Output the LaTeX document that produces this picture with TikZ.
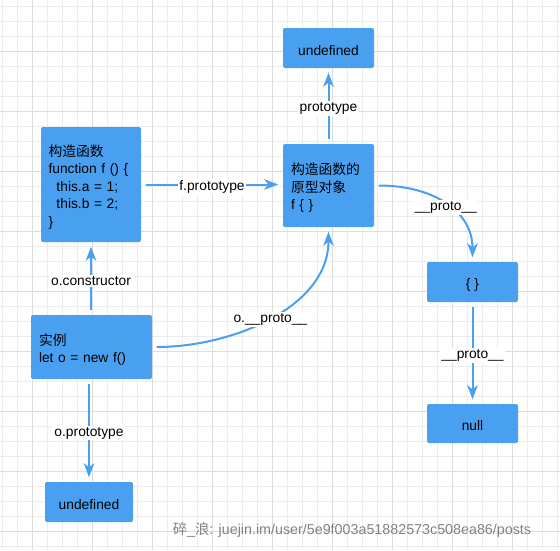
\documentclass[tikz,border=0pt]{standalone}
\usepackage{fontspec}
\setmainfont{Liberation Sans}
\newfontfamily\cjk{Noto Sans CJK SC}
\usetikzlibrary{arrows.meta}
\definecolor{boxblue}{RGB}{74,160,240}
\definecolor{gridminor}{RGB}{236,236,236}
\definecolor{gridmajor}{RGB}{221,221,221}
\definecolor{wmgray}{RGB}{130,130,130}
\tikzset{
  box/.style={fill=boxblue, draw=none, rounded corners=2pt, inner sep=0pt},
  boxtext/.style={inner sep=0pt, text=black, yshift=-2.5pt,
    font=\fontsize{13.8}{17.5}\selectfont},
  lefttext/.style={boxtext, align=left},
  edge/.style={draw=boxblue, line width=2pt,
    -{Stealth[length=14pt,width=10.5pt,inset=4pt]}, shorten <=4.5pt, shorten >=4.5pt},
  lbl/.style={fill=white, inner sep=1.5pt, text=black, yshift=-2.5pt,
    font=\fontsize{13.8}{16}\selectfont}
}
\begin{document}
\begin{tikzpicture}[x=1pt,y=-1pt]
\fill[white] (0,0) rectangle (560,550);
\useasboundingbox (0,0) rectangle (560,550);
% grid
\foreach \x in {2,17,...,557} \draw[gridminor, line width=0.8pt] (\x,0) -- (\x,550);
\foreach \y in {6,21,...,546} \draw[gridminor, line width=0.8pt] (0,\y) -- (560,\y);
\foreach \x in {32,92,...,512} \draw[gridmajor, line width=0.8pt] (\x,0) -- (\x,550);
\foreach \y in {51,111,...,531} \draw[gridmajor, line width=0.8pt] (0,\y) -- (560,\y);
% boxes
\node[box, minimum width=100pt, minimum height=115pt] (ctor) at (91,184.5) {};
\node[box, minimum width=91pt, minimum height=83pt] (proto) at (328.5,185.5) {};
\node[box, minimum width=91pt, minimum height=40pt] (topund) at (328.5,48) {};
\node[box, minimum width=121pt, minimum height=64pt] (inst) at (91.5,347) {};
\node[box, minimum width=88pt, minimum height=40pt] (botund) at (89,502) {};
\node[box, minimum width=91pt, minimum height=40pt] (emp) at (472.5,282) {};
\node[box, minimum width=91pt, minimum height=39pt] (nul) at (472.5,423.5) {};
% box texts
\node[lefttext, text width=85pt] (ctortxt) at (ctor)
  {{\cjk 构造函数}\\function f () \{\\\hspace*{8pt}this.a = 1;\\\hspace*{8pt}this.b = 2;\\\}};
\node[lefttext, text width=75pt] (prototxt) at (proto)
  {{\cjk 构造函数的}\\{\cjk 原型对象}\\f \{ \}};
\node[boxtext] (topundtxt) at (topund) {undefined};
\node[lefttext, text width=105pt] (insttxt) at (inst)
  {{\cjk 实例}\\let o = new f()};
\node[boxtext] (botundtxt) at (botund) {undefined};
\node[boxtext] (emptxt) at (emp) {\{ \}};
\node[boxtext] (nultxt) at (nul) {null};
% edges
\draw[edge] (ctor.east) -- node[lbl]{f.prototype} (proto.west |- ctor.east);
\draw[edge] (proto.north) -- node[lbl]{prototype} (topund.south);
\draw[edge] (inst.north -| ctor.south) -- node[lbl]{o.constructor} (ctor.south);
\draw[edge] (inst.south -| botund.north) -- node[lbl]{o.prototype} (botund.north);
\draw[edge] (emp.south) -- node[lbl]{\_\_proto\_\_} (nul.north);
\draw[edge] (inst.east) .. controls +(80,0) and +(0,80) .. node[lbl]{o.\_\_proto\_\_} (proto.south);
\draw[edge] (proto.east) .. controls +(60,0) and +(0,-50) .. node[lbl]{\_\_proto\_\_} (emp.north);
% watermark
\node[text=wmgray, inner sep=0pt, font=\fontsize{14.3}{16}\selectfont] (wm) at (352,530)
  {{\cjk 碎}\_{\cjk 浪}: juejin.im/user/5e9f003a51882573c508ea86/posts};
\end{tikzpicture}
\end{document}
